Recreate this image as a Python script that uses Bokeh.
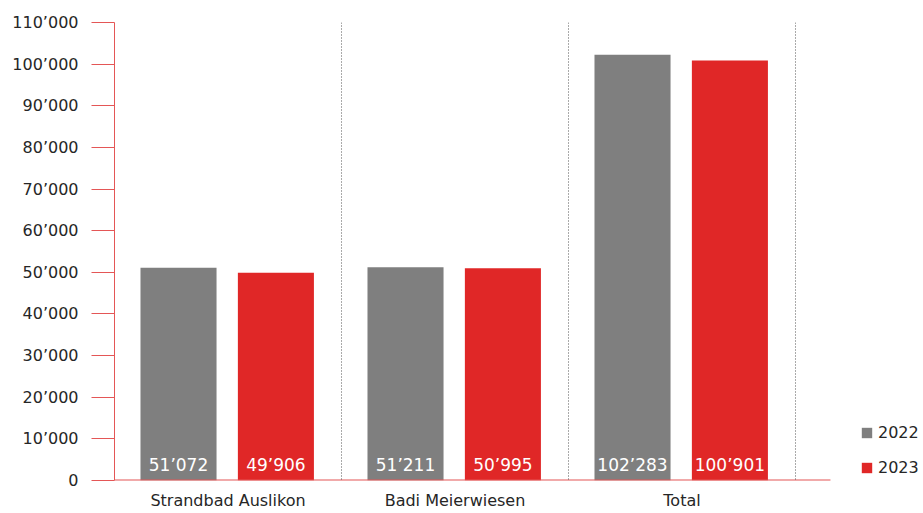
from bokeh.plotting import figure
from bokeh.models import (ColumnDataSource, Range1d, FixedTicker, LabelSet,
                          Legend, LegendItem, Span)
from bokeh.core.properties import value
from bokeh.embed import file_html
from bokeh.resources import INLINE
import numpy as np

# ---- data ----
categories = ["Strandbad Auslikon", "Badi Meierwiesen", "Total"]
years = ["2022", "2023"]
values_2022 = [51072, 51211, 102283]
values_2023 = [49906, 50995, 100901]
y_ticks = [0, 10000, 20000, 30000, 40000, 50000, 60000, 70000, 80000, 90000, 100000, 110000]
y_tick_labels = ["0", "10’000", "20’000", "30’000", "40’000", "50’000", "60’000",
                 "70’000", "80’000", "90’000", "100’000", "110’000"]

# ---- style / layout ----
FONT = "DejaVu Sans"
GRAY = "#7f7f7f"
RED = "#e02727"
AXIS_RED = "#e45656"
TEXT = "#262626"
W, H = 923, 513
LEFT, TOP, BOTTOM = 114, 22, 33
CAT_PX = 227          # pixel width of one category
AXIS_EXTRA = 0.154    # x-axis line runs past the last separator

def fmt(v):
    return f"{v:,}".replace(",", "’")

n = len(categories)
x_end = (W - LEFT) / CAT_PX
centers = np.arange(n) + 0.5
bar_w = 0.335
off_a = -0.218
off_b = 0.211

src_a = ColumnDataSource(dict(x=centers + off_a, top=values_2022,
                              lab=[fmt(v) for v in values_2022]))
src_b = ColumnDataSource(dict(x=centers + off_b, top=values_2023,
                              lab=[fmt(v) for v in values_2023]))

p = figure(width=W, height=H, output_backend="svg", toolbar_location=None,
           x_range=Range1d(0, x_end), y_range=Range1d(0, 110000),
           min_border_left=LEFT, min_border_right=0, min_border_top=TOP,
           min_border_bottom=BOTTOM)
p.outline_line_color = None
p.xgrid.visible = False
p.ygrid.visible = False
p.background_fill_color = "white"
p.border_fill_color = "white"

ra = p.vbar(x="x", top="top", width=bar_w, bottom=0, source=src_a,
            fill_color=GRAY, line_color=None)
rb = p.vbar(x="x", top="top", width=bar_w, bottom=0, source=src_b,
            fill_color=RED, line_color=None)

for src in (src_a, src_b):
    p.add_layout(LabelSet(x="x", y=0, text="lab", source=src, y_offset=10,
                          text_align="center", text_baseline="alphabetic",
                          text_color="white", text_font=value(FONT),
                          text_font_size=value("17px")))

# category separators
for i in range(1, n + 1):
    p.add_layout(Span(location=i, dimension="height", line_color="#555555",
                      line_width=1, line_dash="1 2"))

# x-axis baseline (only as far as the chart area)
p.segment(x0=[0], y0=[0], x1=[n + AXIS_EXTRA], y1=[0],
          line_color=AXIS_RED, line_width=2)

# y axis
ya = p.yaxis[0]
ya.ticker = FixedTicker(ticks=y_ticks)
ya.major_label_overrides = {t: l for t, l in zip(y_ticks, y_tick_labels)}
ya.axis_line_color = AXIS_RED
ya.major_tick_line_color = AXIS_RED
ya.major_tick_out = 23
ya.major_tick_in = 0
ya.minor_tick_line_color = None
ya.major_label_standoff = 13
ya.major_label_text_font = FONT
ya.major_label_text_font_size = "16px"
ya.major_label_text_color = TEXT

# x axis
xa = p.xaxis[0]
xa.ticker = FixedTicker(ticks=list(centers))
xa.major_label_overrides = {float(c): cat for c, cat in zip(centers, categories)}
xa.axis_line_color = None
xa.major_tick_line_color = None
xa.minor_tick_line_color = None
xa.major_label_standoff = 4
xa.major_label_text_font = FONT
xa.major_label_text_font_size = "16px"
xa.major_label_text_color = TEXT

legend = Legend(items=[LegendItem(label=years[0], renderers=[ra]),
                       LegendItem(label=years[1], renderers=[rb])],
                location=(746, 3), orientation="vertical",
                glyph_width=13, glyph_height=13, label_height=20,
                spacing=15, padding=0, margin=0, label_standoff=5,
                border_line_color=None, background_fill_alpha=0,
                label_text_font=FONT, label_text_font_size="16px",
                label_text_color=TEXT)
p.add_layout(legend, "center")

open("out.html", "w").write(file_html(p, INLINE))
